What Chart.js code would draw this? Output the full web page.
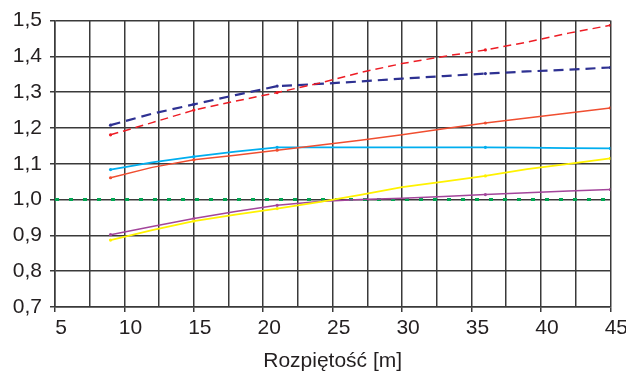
<!DOCTYPE html>
<html>
<head>
<meta charset="utf-8">
<script src="https://cdn.jsdelivr.net/npm/chart.js@4.4.0/dist/chart.umd.min.js"></script>
<style>
  html, body { margin: 0; padding: 0; background: #fff; }
  #wrap { width: 626px; height: 374px; }
</style>
</head>
<body>
<div id="wrap"><canvas id="chart"></canvas></div>
<script>
// span values [m]
const spans = [9, 12, 15, 18, 21, 24, 27, 30, 33, 36, 39, 42, 45];
const markSpans = [9, 15, 21, 36, 45];

const redDashed = [1.181, 1.215, 1.250, 1.275, 1.299, 1.325, 1.355, 1.380, 1.400, 1.418, 1.440, 1.465, 1.487];
const navyDashed = [1.208, 1.240, 1.266, 1.292, 1.317, 1.323, 1.330, 1.338, 1.345, 1.352, 1.358, 1.363, 1.369];
const orangeSolid = [1.061, 1.090, 1.111, 1.124, 1.138, 1.152, 1.166, 1.181, 1.198, 1.214, 1.228, 1.242, 1.256];
const cyanSolid = [1.084, 1.104, 1.120, 1.134, 1.146, 1.146, 1.146, 1.146, 1.146, 1.146, 1.145, 1.144, 1.143];
const yellowSolid = [0.887, 0.915, 0.940, 0.958, 0.975, 0.993, 1.013, 1.035, 1.050, 1.066, 1.085, 1.100, 1.115];
const purpleSolid = [0.902, 0.925, 0.947, 0.967, 0.984, 0.995, 1.000, 1.004, 1.009, 1.014, 1.019, 1.024, 1.028];

const refX = [5, 45];
const refY = [1.0, 1.0];

const yTicks = [0.7, 0.8, 0.9, 1.0, 1.1, 1.2, 1.3, 1.4, 1.5];

function toPoints(xs, ys) {
    return xs.map((x, i) => ({ x: x, y: ys[i] }));
}

function markRadius(ctx) {
    const p = ctx.raw;
    return p && markSpans.includes(p.x) ? 1.6 : 0;
}

function lineSet(label, data, color, width, dash) {
    return {
        label: label,
        data: toPoints(spans, data),
        borderColor: color,
        backgroundColor: color,
        borderWidth: width,
        borderDash: dash || [],
        pointRadius: markRadius,
        pointBorderWidth: 0,
        tension: 0,
        fill: false
    };
}

const textColor = '#231f20';
const gridColor = '#3a3a3a';
const tickFont = { family: 'Liberation Sans', size: 21 };

new Chart(document.getElementById('chart').getContext('2d'), {
    type: 'line',
    data: {
        datasets: [
            lineSet('s1', redDashed, '#ed1c24', 1.5, [8, 5]),
            lineSet('s2', navyDashed, '#2e3192', 2.2, [10, 6]),
            lineSet('s3', orangeSolid, '#f04e30', 1.5),
            lineSet('s4', cyanSolid, '#00aeef', 1.8),
            lineSet('s5', yellowSolid, '#fff200', 1.8),
            lineSet('s6', purpleSolid, '#a3459b', 1.5),
            {
                label: 'ref',
                data: toPoints(refX, refY),
                borderColor: '#00a651',
                borderWidth: 3,
                borderDash: [4, 10],
                pointRadius: 0,
                fill: false
            }
        ]
    },
    options: {
        responsive: true,
        maintainAspectRatio: false,
        animation: false,
        layout: { padding: { top: 14, right: 14, left: 0, bottom: 0 } },
        plugins: {
            legend: { display: false },
            tooltip: { enabled: false }
        },
        scales: {
            x: {
                type: 'linear',
                min: 5,
                max: 45,
                grid: {
                    color: gridColor,
                    lineWidth: 1.5,
                    drawTicks: true,
                    tickLength: 5,
                    tickColor: ctx => (ctx.tick && ctx.tick.value % 5 === 0) ? gridColor : 'rgba(0,0,0,0)'
                },
                border: { color: gridColor, width: 1.5 },
                ticks: {
                    stepSize: 2.5,
                    autoSkip: false,
                    maxRotation: 0,
                    color: textColor,
                    font: tickFont,
                    padding: 4,
                    labelOffset: 6,
                    callback: v => (v % 5 === 0 ? String(v) : '')
                },
                title: {
                    display: true,
                    text: 'Rozpiętość [m]',
                    color: textColor,
                    font: tickFont,
                    padding: { top: 2, bottom: 0 }
                },
                afterFit: scale => { scale.height = 67; }
            },
            y: {
                min: 0.7,
                max: 1.5,
                grid: {
                    color: gridColor,
                    lineWidth: 1.5,
                    tickLength: 5
                },
                border: { color: gridColor, width: 1.5 },
                afterBuildTicks: scale => {
                    scale.ticks = yTicks.map(v => ({ value: v }));
                },
                ticks: {
                    color: textColor,
                    font: tickFont,
                    padding: 8,
                    callback: v => v.toFixed(1).replace('.', ',')
                },
                afterFit: scale => { scale.width = 55; }
            }
        }
    }
});
</script>
</body>
</html>
